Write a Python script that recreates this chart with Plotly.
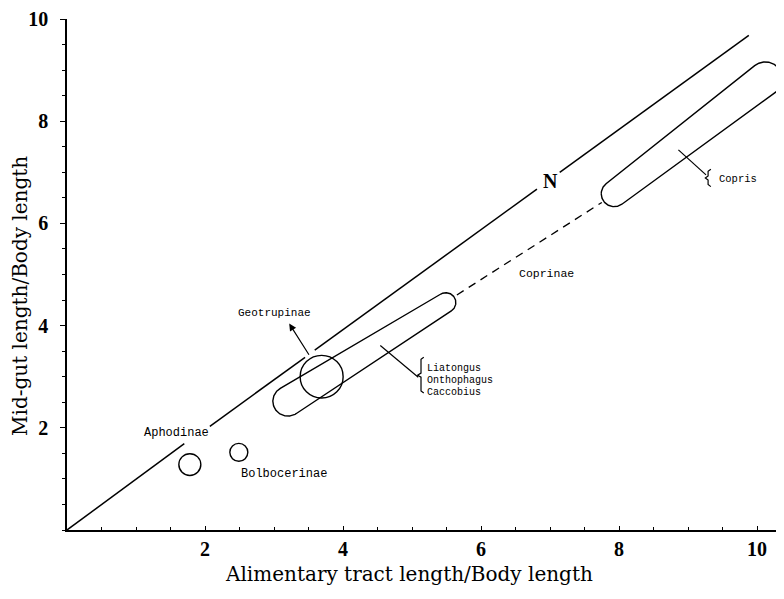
import numpy as np
import plotly.graph_objects as go

# ---------------- data (axis units) ----------------
X_TICKS = [2, 4, 6, 8, 10]
Y_TICKS = [2, 4, 6, 8, 10]

# N line (with gaps for labels / circle)
N_X = [0, 1.70, None, 2.07, 3.45, None, 3.59, 6.81, None, 7.14, 9.88]
N_Y = [0, 1.69, None, 2.03, 3.38, None, 3.52, 6.67, None, 7.00, 9.68]

# Coprinae dashed connector
DASH_X = [5.65, 7.75]
DASH_Y = [4.60, 6.41]

# circles: centre x, centre y, radius (screen px)
CIRC_NAMES = ["Aphodinae", "Bolbocerinae", "Geotrupinae"]
CIRC_X = [1.78, 2.49, 3.69]
CIRC_Y = [1.28, 1.52, 3.00]
CIRC_R = [11, 9, 21.5]

# capsules: end-centre 1, end-centre 2, end radii (px)
CAP1_X = [3.20, 5.49]
CAP1_Y = [2.52, 4.45]
CAP1_R = [15, 10]
CAP2_X = [7.93, 10.12]
CAP2_Y = [6.58, 8.83]
CAP2_R = [13, 17]

# leader lines
LEAD1_X = [4.54, 5.09]
LEAD1_Y = [3.61, 2.99]
LEAD2_X = [8.86, 9.26]
LEAD2_Y = [7.44, 6.95]

# braces
BR1_X = [5.17, 5.13, 5.13, 5.08, 5.13, 5.13, 5.17]
BR1_Y = [3.38, 3.34, 3.07, 3.03, 2.99, 2.72, 2.68]
BR2_X = [9.33, 9.29, 9.29, 9.25, 9.29, 9.29, 9.33]
BR2_Y = [7.06, 7.02, 6.93, 6.89, 6.85, 6.76, 6.72]

# ---------------- layout geometry ----------------
W, H = 776, 583
ML, MR, MT, MB = 59, 0, 7, 61
XR = [0, 10.39]
YR = [0, 10]
SX = (W - ML - MR) / (XR[1] - XR[0])
SY = (H - MT - MB) / (YR[1] - YR[0])


def hull(points):
    pts = sorted(set(points))
    def cross(o, a, b):
        return (a[0]-o[0])*(b[1]-o[1]) - (a[1]-o[1])*(b[0]-o[0])
    lower, upper = [], []
    for p in pts:
        while len(lower) >= 2 and cross(lower[-2], lower[-1], p) <= 0:
            lower.pop()
        lower.append(p)
    for p in reversed(pts):
        while len(upper) >= 2 and cross(upper[-2], upper[-1], p) <= 0:
            upper.pop()
        upper.append(p)
    return lower[:-1] + upper[:-1]


def capsule(xs, ys, rs):
    t = np.linspace(0, 2*np.pi, 241)
    pts = []
    for cx, cy, r in zip(xs, ys, rs):
        for a in t:
            pts.append((round(cx*SX + r*np.cos(a), 4), round(cy*SY + r*np.sin(a), 4)))
    h = hull(pts)
    h.append(h[0])
    return [p[0]/SX for p in h], [p[1]/SY for p in h]


fig = go.Figure()
line_style = dict(color="black", width=1.4)

fig.add_trace(go.Scatter(x=N_X, y=N_Y, mode="lines", line=dict(color="black", width=1.5),
                         hoverinfo="skip", cliponaxis=False))
fig.add_trace(go.Scatter(x=DASH_X, y=DASH_Y, mode="lines",
                         line=dict(color="black", width=1.3, dash="8px,6px"), hoverinfo="skip"))
for cx, cy, cr in ((CAP1_X, CAP1_Y, CAP1_R), (CAP2_X, CAP2_Y, CAP2_R)):
    px, py = capsule(cx, cy, cr)
    fig.add_trace(go.Scatter(x=px, y=py, mode="lines", line=line_style, hoverinfo="skip",
                             cliponaxis=False))
for lx, ly in ((LEAD1_X, LEAD1_Y), (LEAD2_X, LEAD2_Y), (BR1_X, BR1_Y), (BR2_X, BR2_Y)):
    fig.add_trace(go.Scatter(x=lx, y=ly, mode="lines", line=dict(color="black", width=1.2),
                             hoverinfo="skip"))

shapes = []
for cx, cy, r in zip(CIRC_X, CIRC_Y, CIRC_R):
    shapes.append(dict(type="circle", xref="x", yref="y",
                       x0=cx - r/SX, x1=cx + r/SX, y0=cy - r/SY, y1=cy + r/SY,
                       line=dict(color="black", width=1.4)))

mono = "Liberation Mono"
ann = []
def txt(x, y, s, size, anchor="left", font=mono, bold=False):
    ann.append(dict(x=x, y=y, xref="x", yref="y", text=("<b>%s</b>" % s) if bold else s,
                    showarrow=False, xanchor=anchor, yanchor="middle",
                    font=dict(family=font, size=size, color="black")))

txt(1.58, 1.90, "Aphodinae", 12, "center")
txt(2.49, 1.09, "Bolbocerinae", 12)
txt(3.56, 4.25, "Geotrupinae", 11, "right")
txt(5.19, 3.17, "Liatongus", 10)
txt(5.19, 2.93, "Onthophagus", 10)
txt(5.19, 2.70, "Caccobius", 10)
txt(6.52, 5.01, "Coprinae", 11.5)
txt(9.42, 6.87, "Copris", 10.5)
txt(7.0, 6.83, "N", 20, "center", font="Liberation Serif", bold=True)

# Geotrupinae arrow
ann.append(dict(x=3.22, y=4.04, ax=3.52, ay=3.40, xref="x", yref="y", axref="x", ayref="y",
                showarrow=True, arrowhead=2, arrowsize=1.2, arrowwidth=1.2, arrowcolor="black",
                text=""))

# axis titles (paper coordinates)
ann.append(dict(x=0.477, y=-0.087, xref="paper", yref="paper",
                text="Alimentary tract length/Body length", showarrow=False,
                xanchor="center", yanchor="middle",
                font=dict(family="DejaVu Serif", size=20, color="black")))
ann.append(dict(x=-0.0656, y=0.458, xref="paper", yref="paper",
                text="Mid-gut length/Body length", showarrow=False, textangle=-90,
                xanchor="center", yanchor="middle",
                font=dict(family="DejaVu Serif", size=20, color="black")))

axis_common = dict(showgrid=False, zeroline=False, showline=True, linecolor="black", linewidth=1.5,
                   tickcolor="black", tickwidth=1.3, ticklabeloverflow="allow",
                   tickfont=dict(family="Liberation Serif", size=20, color="black", weight="bold"))

fig.update_layout(
    width=W, height=H, margin=dict(l=ML, r=MR, t=MT, b=MB),
    paper_bgcolor="white", plot_bgcolor="white", showlegend=False,
    xaxis=dict(range=XR, tickvals=X_TICKS, ticks="inside", ticklen=4,
               minor=dict(dtick=0.5, ticks="inside", ticklen=3, tickcolor="black", tickwidth=1),
               **axis_common),
    yaxis=dict(range=YR, tickvals=Y_TICKS, ticks="outside", ticklen=5, ticklabelstandoff=8,
               minor=dict(dtick=0.5, ticks="outside", ticklen=3, tickcolor="black", tickwidth=1),
               **axis_common),
    shapes=shapes, annotations=ann,
)

fig.write_html("out.html")
